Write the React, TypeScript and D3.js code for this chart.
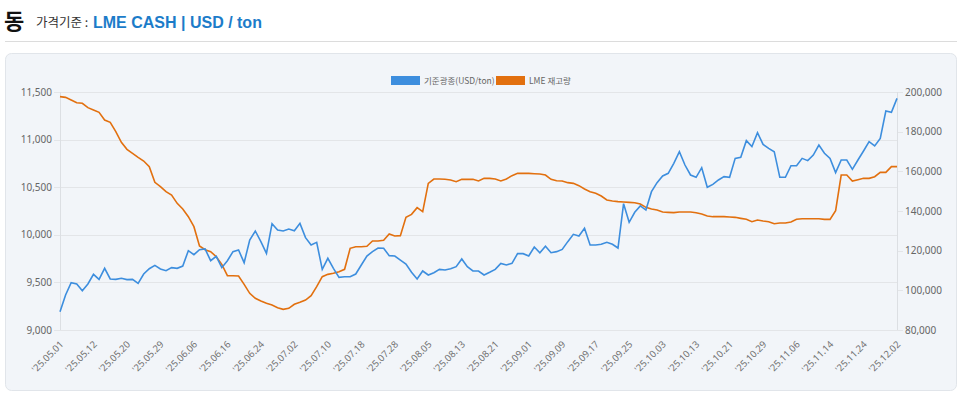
import { useEffect, useRef } from "react"
import * as d3 from "d3"

// x tick labels, one every 6 trading days
const tickLabels = [
  "'25.05.01", "'25.05.12", "'25.05.20", "'25.05.29", "'25.06.06", "'25.06.16",
  "'25.06.24", "'25.07.02", "'25.07.10", "'25.07.18", "'25.07.28", "'25.08.05",
  "'25.08.13", "'25.08.21", "'25.09.01", "'25.09.09", "'25.09.17", "'25.09.25",
  "'25.10.03", "'25.10.13", "'25.10.21", "'25.10.29", "'25.11.06", "'25.11.14",
  "'25.11.24", "'25.12.02",
]
const tickEvery = 6

// LME cash price, USD/ton
const priceValues = [
  9192, 9368, 9497, 9483, 9413, 9483, 9585, 9532, 9648, 9536,
  9532, 9543, 9529, 9532, 9490, 9588, 9644, 9679, 9641, 9623,
  9655, 9648, 9672, 9833, 9791, 9844, 9851, 9728, 9774, 9655,
  9728, 9823, 9840, 9707, 9945, 10040, 9928, 9805, 10117, 10050,
  10040, 10061, 10043, 10120, 9970, 9893, 9921, 9637, 9753, 9648,
  9553, 9560, 9560, 9588, 9683, 9777, 9823, 9861, 9858, 9781,
  9777, 9735, 9693, 9606, 9536, 9620, 9578, 9602, 9637, 9630,
  9644, 9665, 9746, 9665, 9620, 9620, 9578, 9606, 9637, 9700,
  9683, 9700, 9802, 9802, 9777, 9872, 9812, 9879, 9812, 9823,
  9847, 9928, 10005, 9987, 10068, 9893, 9893, 9900, 9921, 9900,
  9861, 10327, 10131, 10236, 10303, 10260, 10453, 10548, 10618, 10646,
  10751, 10873, 10733, 10628, 10604, 10705, 10499, 10530, 10576, 10611,
  10604, 10803, 10814, 10989, 10926, 11073, 10950, 10908, 10873, 10604,
  10604, 10726, 10726, 10803, 10779, 10838, 10943, 10856, 10803, 10653,
  10786, 10786, 10688, 10786, 10880, 10978, 10933, 11013, 11300, 11286,
  11433,
]

// LME stock, ton
const stockValues = [
  197650, 197310, 195970, 194620, 194290, 192100, 190920, 189750, 185880, 184700,
  180000, 174620, 171090, 169080, 167060, 165210, 162350, 154450, 152270, 149750,
  148070, 143860, 141010, 137140, 132100, 122350, 120500, 119490, 116970, 113110,
  107390, 107390, 107230, 103020, 98490, 95960, 94620, 93440, 92600, 91260,
  90420, 90920, 92940, 93950, 95120, 97310, 101850, 106890, 108060, 108570,
  109410, 110590, 121170, 122010, 122010, 122180, 124870, 124870, 125210, 128400,
  127390, 127560, 136800, 138320, 141680, 139660, 153950, 156130, 156130, 155970,
  155630, 154790, 155970, 155970, 155970, 155130, 156470, 156470, 156130, 155130,
  156130, 157810, 158990, 158990, 158990, 158820, 158650, 158150, 155970, 155290,
  155130, 154290, 153950, 152770, 151090, 149750, 148910, 147560, 145550, 145040,
  144710, 144540, 144370, 144200, 143530, 141850, 141010, 140500, 139500, 139330,
  139160, 139500, 139500, 139500, 139160, 138490, 137480, 137140, 137140, 137140,
  136970, 136810, 136300, 135800, 134620, 135460, 134960, 134620, 133610, 133950,
  133950, 134450, 135800, 136130, 136130, 136130, 136130, 135800, 135800, 140170,
  158150, 158150, 155130, 155800, 156470, 156470, 157310, 159500, 159500, 162350,
  162350,
]

const leftTicks = [9000, 9500, 10000, 10500, 11000, 11500]
const rightTicks = [80000, 100000, 120000, 140000, 160000, 180000, 200000]

const seriesNames = ["기준광종(USD/ton)", "LME 재고량"]
const seriesColors = ["#3d8ede", "#e2700f"]

export default function App() {
  const svgRef = useRef<SVGSVGElement>(null)
  const width = 960
  const height = 396

  useEffect(() => {
    if (!svgRef.current) return
    const svg = d3.select(svgRef.current)
    svg.selectAll("*").remove()

    const font = "'Noto Sans', 'Noto Sans CJK KR', sans-serif"
    const margin = { top: 92, right: 63, bottom: 66, left: 60 }
    const x0 = margin.left
    const x1 = width - margin.right
    const y0 = height - margin.bottom
    const y1 = margin.top

    // header
    svg.append("text").attr("x", 4).attr("y", 29)
      .attr("font-family", "'Noto Sans CJK KR', sans-serif").attr("font-weight", 700)
      .attr("font-size", 22).attr("fill", "#111").text("동")
    svg.append("text").attr("x", 36).attr("y", 27)
      .attr("font-family", "'Noto Sans CJK KR', sans-serif")
      .attr("font-size", 12.5).attr("fill", "#333").text("가격기준 :")
    svg.append("text").attr("x", 93).attr("y", 28)
      .attr("font-family", "'Liberation Sans', Arial, sans-serif").attr("font-weight", 700)
      .attr("font-size", 16).attr("fill", "#1c7cc9").text("LME CASH | USD / ton")
    svg.append("line").attr("x1", 5).attr("x2", 957).attr("y1", 41.5).attr("y2", 41.5)
      .attr("stroke", "#dcdcdc")

    // panel
    svg.append("rect").attr("x", 5.5).attr("y", 53.5).attr("width", 951).attr("height", 337)
      .attr("rx", 6).attr("fill", "#f2f5f9").attr("stroke", "#e1e5ea")

    const xScale = d3.scalePoint<number>()
      .domain(d3.range(priceValues.length))
      .range([x0, x1])

    const yLeft = d3.scaleLinear().domain([9000, 11500]).range([y0, y1])
    const yRight = d3.scaleLinear().domain([80000, 200000]).range([y0, y1])

    const chart = svg.append("g")

    // grid
    chart.selectAll(".grid").data(leftTicks).enter().append("line")
      .attr("x1", x0 - 6).attr("x2", x1)
      .attr("y1", d => Math.round(yLeft(d)) + 0.5).attr("y2", d => Math.round(yLeft(d)) + 0.5)
      .attr("stroke", "#e3e5e8")
    chart.selectAll(".rtick").data(rightTicks).enter().append("line")
      .attr("x1", x1).attr("x2", x1 + 6)
      .attr("y1", d => Math.round(yRight(d)) + 0.5).attr("y2", d => Math.round(yRight(d)) + 0.5)
      .attr("stroke", "#e3e5e8")

    // axis lines
    chart.append("line").attr("x1", x0 + 0.5).attr("x2", x0 + 0.5).attr("y1", y1).attr("y2", y0)
      .attr("stroke", "#dcdfe3")
    chart.append("line").attr("x1", x1 + 0.5).attr("x2", x1 + 0.5).attr("y1", y1).attr("y2", y0)
      .attr("stroke", "#dcdfe3")

    // left labels
    chart.selectAll(".ll").data(leftTicks).enter().append("text")
      .attr("x", x0 - 8).attr("y", d => yLeft(d) + 3.5)
      .attr("text-anchor", "end").attr("font-family", font).attr("font-size", 10)
      .attr("fill", "#666").text(d => d3.format(",")(d))
    chart.selectAll(".rl").data(rightTicks).enter().append("text")
      .attr("x", x1 + 8).attr("y", d => yRight(d) + 3.5)
      .attr("font-family", font).attr("font-size", 10)
      .attr("fill", "#666").text(d => d3.format(",")(d))

    // x labels
    chart.selectAll(".xl").data(tickLabels).enter().append("text")
      .attr("transform", (d, i) => `translate(${(xScale(i * tickEvery) as number) + 4}, ${y0 + 15}) rotate(-45)`)
      .attr("text-anchor", "end").attr("font-family", font).attr("font-size", 9.5)
      .attr("fill", "#707070").text(d => d)

    // lines
    const priceLine = d3.line<number>()
      .x((d, i) => xScale(i) as number)
      .y(d => yLeft(d))
    const stockLine = d3.line<number>()
      .x((d, i) => xScale(i) as number)
      .y(d => yRight(d))

    chart.append("path").datum(stockValues).attr("d", stockLine)
      .attr("fill", "none").attr("stroke", seriesColors[1]).attr("stroke-width", 1.6)
    chart.append("path").datum(priceValues).attr("d", priceLine)
      .attr("fill", "none").attr("stroke", seriesColors[0]).attr("stroke-width", 1.6)

    // legend
    const legend = svg.append("g").attr("transform", "translate(391, 76)")
    const legendX = [0, 105]
    seriesNames.forEach((name, i) => {
      const g = legend.append("g").attr("transform", `translate(${legendX[i]}, 0)`)
      g.append("rect").attr("width", 29).attr("height", 9).attr("fill", seriesColors[i])
      g.append("text").attr("x", 33).attr("y", 8)
        .attr("font-family", "'Noto Sans CJK KR', sans-serif").attr("font-size", 8.5)
        .attr("fill", "#666").text(name)
    })
  }, [])

  return (
    <div style={{ position: "absolute", left: 0, top: 0, width, height, background: "#fff" }}>
      <svg ref={svgRef} width={width} height={height} viewBox={`0 0 ${width} ${height}`}
        style={{ display: "block" }} xmlns="http://www.w3.org/2000/svg" />
    </div>
  )
}
